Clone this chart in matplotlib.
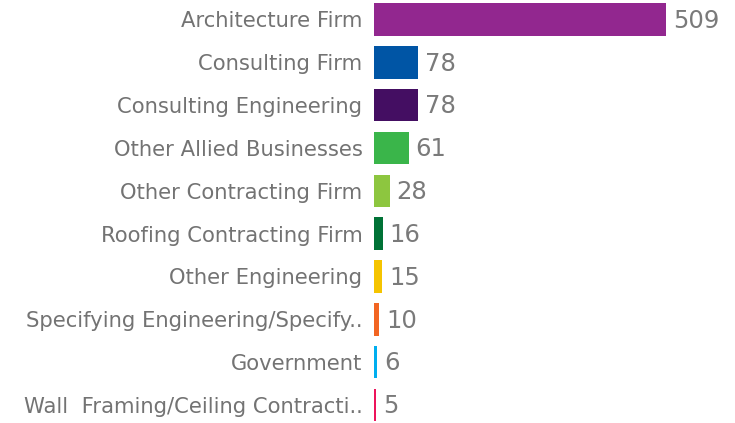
import matplotlib
matplotlib.use("Agg")
import matplotlib.pyplot as plt

categories = ["Architecture Firm", "Consulting Firm", "Consulting Engineering",
              "Other Allied Businesses", "Other Contracting Firm",
              "Roofing Contracting Firm", "Other Engineering",
              "Specifying Engineering/Specify..", "Government",
              "Wall  Framing/Ceiling Contracti.."]
values = [509, 78, 78, 61, 28, 16, 15, 10, 6, 5]
colors = ["#92278F", "#0055A5", "#440E62", "#3AB54A", "#8DC63F",
          "#007236", "#F5C400", "#F26522", "#00AEEF", "#ED145B"]

fig = plt.figure(figsize=(7.35, 4.23), dpi=100)
ax = fig.add_axes([373.5 / 735, 0, 1 - 373.5 / 735, 1])

y = list(range(len(categories)))
ax.barh(y, values, height=0.76, color=colors)
ax.set_xlim(0, 361.5 / 0.574)
# row pitch ~42.8px, first row centred at ~19.5px
ax.set_ylim(-0.455 + 423 / 42.83, -0.455)

for yi, v in zip(y, values):
    ax.text(v + 7 / 0.574, yi + 0.03, str(v), va="center", ha="left",
            fontsize=17.5, color="#7a7a7a", family="DejaVu Sans")

ax.set_yticks(y)
ax.set_yticklabels(categories, fontsize=15.2, color="#737373", family="DejaVu Sans")
ax.tick_params(axis="y", length=0, pad=8)
ax.set_xticks([])
for s in ax.spines.values():
    s.set_visible(False)

fig.savefig("out.png", dpi=100)
